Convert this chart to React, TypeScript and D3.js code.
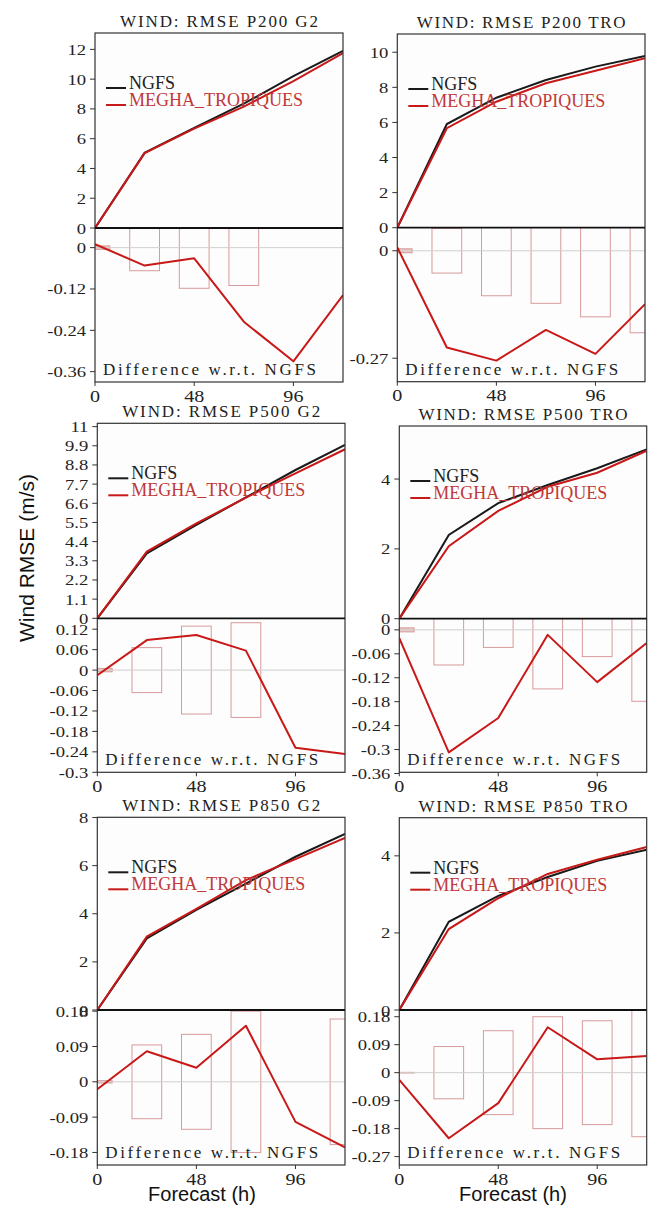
import React from "react";
import * as d3 from "d3";

// ---------- DATA ----------
const hours = [0, 24, 48, 72, 96, 120];
const xTicks = [0, 48, 96];

// P200 G2
const p200g2Ngfs = [0, 5.05, 6.72, 8.35, 10.2, 11.9];
const p200g2Megha = [0, 5.03, 6.68, 8.15, 9.87, 11.75];
const p200g2Diff = [0.01, -0.052, -0.031, -0.215, -0.33, -0.138];
const p200g2Ci = [0.005, 0.067, 0.118, 0.11, null, null];
const p200g2UpperTicks = [0, 2, 4, 6, 8, 10, 12];
const p200g2LowerTicks = [0, -0.12, -0.24, -0.36];

// P200 TRO
const p200troNgfs = [0, 5.91, 7.41, 8.42, 9.18, 9.79];
const p200troMegha = [0, 5.67, 7.18, 8.23, 8.95, 9.66];
const p200troDiff = [0.0085, -0.243, -0.276, -0.199, -0.259, -0.134];
const p200troCi = [0.005, 0.056, 0.113, 0.132, 0.166, 0.206];
const p200troUpperTicks = [0, 2, 4, 6, 8, 10];
const p200troLowerTicks = [0, -0.27];

// P500 G2
const p500g2Ngfs = [0, 3.73, 5.36, 6.94, 8.51, 9.95];
const p500g2Megha = [0, 3.83, 5.45, 6.92, 8.32, 9.7];
const p500g2Diff = [-0.015, 0.088, 0.103, 0.057, -0.228, -0.246];
const p500g2Ci = [0.005, 0.066, 0.129, 0.139, null, null];
const p500g2UpperTicks = [0, 1.1, 2.2, 3.3, 4.4, 5.5, 6.6, 7.7, 8.8, 9.9, 11];
const p500g2LowerTicks = [0.12, 0.06, 0, -0.06, -0.12, -0.18, -0.24, -0.3];

// P500 TRO
const p500troNgfs = [0, 2.4, 3.31, 3.83, 4.31, 4.85];
const p500troMegha = [0, 2.08, 3.09, 3.78, 4.18, 4.81];
const p500troDiff = [-0.021, -0.307, -0.221, -0.0125, -0.131, -0.033];
const p500troCi = [0.005, 0.088, 0.044, 0.148, 0.067, 0.179];
const p500troUpperTicks = [0, 2, 4];
const p500troLowerTicks = [0, -0.06, -0.12, -0.18, -0.24, -0.3, -0.36];

// P850 G2
const p850g2Ngfs = [0, 2.98, 4.16, 5.25, 6.37, 7.32];
const p850g2Megha = [0, 3.05, 4.2, 5.4, 6.27, 7.15];
const p850g2Diff = [-0.019, 0.078, 0.036, 0.143, -0.102, -0.167];
const p850g2Ci = [0.003, 0.094, 0.121, 0.18, null, 0.16];
const p850g2UpperTicks = [0, 2, 4, 6, 8];
const p850g2LowerTicks = [0.18, 0.09, 0, -0.09, -0.18];

// P850 TRO
const p850troNgfs = [0, 2.29, 2.96, 3.45, 3.87, 4.16];
const p850troMegha = [0, 2.1, 2.9, 3.53, 3.9, 4.23];
const p850troDiff = [-0.023, -0.211, -0.098, 0.146, 0.043, 0.054];
const p850troCi = [0.001, 0.084, 0.135, 0.18, 0.167, 0.206];
const p850troUpperTicks = [0, 2, 4];
const p850troLowerTicks = [0.18, 0.09, 0, -0.09, -0.18, -0.27];

// ---------- LAYOUT ----------
const panels = [
  { id: "a", title: "WIND: RMSE P200 G2", ngfs: p200g2Ngfs, megha: p200g2Megha, diff: p200g2Diff, ci: p200g2Ci, upTicks: p200g2UpperTicks, lowTicks: p200g2LowerTicks,
    left: 95, right: 343, top: 33, mid: 228, bottom: 382, upDom: [0, 13.1], lowDom: [-0.39, 0.057] },
  { id: "b", title: "WIND: RMSE P200 TRO", ngfs: p200troNgfs, megha: p200troMegha, diff: p200troDiff, ci: p200troCi, upTicks: p200troUpperTicks, lowTicks: p200troLowerTicks,
    left: 397.3, right: 645, top: 34, mid: 227.7, bottom: 381.7, upDom: [0, 11.04], lowDom: [-0.329, 0.058] },
  { id: "c", title: "WIND: RMSE P500 G2", ngfs: p500g2Ngfs, megha: p500g2Megha, diff: p500g2Diff, ci: p500g2Ci, upTicks: p500g2UpperTicks, lowTicks: p500g2LowerTicks,
    left: 97.3, right: 345, top: 423.3, mid: 618.3, bottom: 772.3, upDom: [0, 11.19], lowDom: [-0.3, 0.152] },
  { id: "d", title: "WIND: RMSE P500 TRO", ngfs: p500troNgfs, megha: p500troMegha, diff: p500troDiff, ci: p500troCi, upTicks: p500troUpperTicks, lowTicks: p500troLowerTicks,
    left: 399.3, right: 646.7, top: 426, mid: 618.7, bottom: 772.3, upDom: [0, 5.52], lowDom: [-0.357, 0.028] },
  { id: "e", title: "WIND: RMSE P850 G2", ngfs: p850g2Ngfs, megha: p850g2Megha, diff: p850g2Diff, ci: p850g2Ci, upTicks: p850g2UpperTicks, lowTicks: p850g2LowerTicks,
    left: 97.3, right: 345, top: 817.3, mid: 1010, bottom: 1165, upDom: [0, 8.01], lowDom: [-0.212, 0.183] },
  { id: "f", title: "WIND: RMSE P850 TRO", ngfs: p850troNgfs, megha: p850troMegha, diff: p850troDiff, ci: p850troCi, upTicks: p850troUpperTicks, lowTicks: p850troLowerTicks,
    left: 399.3, right: 646.7, top: 817.7, mid: 1010, bottom: 1165, upDom: [0, 4.99], lowDom: [-0.297, 0.2016] },
];

const SERIF = "'Liberation Serif', 'Times New Roman', serif";
const SANS = "'Liberation Sans', Arial, sans-serif";
const RED = "#c81818";
const BOX = "#d89a9a";
const HALF_BAR = 7.2;

const fmt = (v: number) => String(+v.toFixed(2));

function Panel({ p }: { p: any }) {
  const x = d3.scaleLinear().domain([0, 120]).range([p.left, p.right]);
  const yU = d3.scaleLinear().domain(p.upDom).range([p.mid, p.top]);
  const yL = d3.scaleLinear().domain(p.lowDom).range([p.bottom, p.mid]);
  const lineU = d3.line<number>().x((_, i) => x(hours[i])).y((d) => yU(d));
  const lineL = d3.line<number>().x((_, i) => x(hours[i])).y((d) => yL(d));
  const cx = (p.left + p.right) / 2;
  const titleLen = p.title.length * 11;
  return (
    <g>
      <defs>
        <clipPath id={`up-${p.id}`}>
          <rect x={p.left} y={p.top} width={p.right - p.left} height={p.mid - p.top} />
        </clipPath>
        <clipPath id={`lo-${p.id}`}>
          <rect x={p.left} y={p.mid} width={p.right - p.left} height={p.bottom - p.mid} />
        </clipPath>
      </defs>
      <rect x={p.left} y={p.top} width={p.right - p.left} height={p.bottom - p.top} fill="#fdfdfd" />
      {/* lower panel */}
      <g clipPath={`url(#lo-${p.id})`}>
        {p.ci.map((c: number | null, i: number) =>
          c == null ? null : (
            <rect
              key={i}
              x={x(hours[i] - HALF_BAR)}
              width={x(hours[i] + HALF_BAR) - x(hours[i] - HALF_BAR)}
              y={yL(c)}
              height={Math.max(0.5, yL(-c) - yL(c))}
              fill={i === 0 ? "#ecc8c8" : "none"}
              stroke={BOX}
              strokeWidth={1}
            />
          )
        )}
        <line x1={p.left} x2={p.right} y1={yL(0)} y2={yL(0)} stroke="#cfcfcf" strokeWidth={1} />
        <path d={lineL(p.diff) || ""} fill="none" stroke={RED} strokeWidth={2} strokeLinejoin="round" />
      </g>
      {/* upper panel */}
      <g clipPath={`url(#up-${p.id})`}>
        <path d={lineU(p.ngfs) || ""} fill="none" stroke="#1a1a1a" strokeWidth={2} />
        <path d={lineU(p.megha) || ""} fill="none" stroke={RED} strokeWidth={2} />
      </g>
      {/* frame */}
      <rect x={p.left} y={p.top} width={p.right - p.left} height={p.bottom - p.top} fill="none" stroke="#333" strokeWidth={1.2} />
      <line x1={p.left} x2={p.right} y1={p.mid} y2={p.mid} stroke="#111" strokeWidth={1.8} />
      {/* y ticks upper */}
      {p.upTicks.map((t: number) => (
        <g key={`u${t}`}>
          <line x1={p.left - 5} x2={p.left} y1={yU(t)} y2={yU(t)} stroke="#333" strokeWidth={1} />
          <text transform={`translate(${p.left - 9},${yU(t) + 5.5}) scale(1.2,1)`} textAnchor="end" fontFamily={SERIF} fontSize={15.5} fill="#222">
            {fmt(t)}
          </text>
        </g>
      ))}
      {p.lowTicks.map((t: number) => (
        <g key={`l${t}`}>
          <line x1={p.left - 5} x2={p.left} y1={yL(t)} y2={yL(t)} stroke="#333" strokeWidth={1} />
          <text transform={`translate(${p.left - 9},${yL(t) + 5.5}) scale(1.2,1)`} textAnchor="end" fontFamily={SERIF} fontSize={15.5} fill="#222">
            {fmt(t)}
          </text>
        </g>
      ))}
      {/* x ticks */}
      {xTicks.map((t) => (
        <g key={`x${t}`}>
          <line x1={x(t)} x2={x(t)} y1={p.bottom} y2={p.bottom + 4} stroke="#333" strokeWidth={1} />
          <text transform={`translate(${x(t)},${p.bottom + 19.5}) scale(1.22,1)`} textAnchor="middle" fontFamily={SERIF} fontSize={16.5} fill="#222">
            {t}
          </text>
        </g>
      ))}
      {/* title */}
      <text x={cx} y={p.top - 6} textAnchor="middle" fontFamily={SERIF} fontSize={17} textLength={titleLen} lengthAdjust="spacing" fill="#222">
        {p.title}
      </text>
      {/* legend */}
      <line x1={p.left + 11} x2={p.left + 31} y1={p.top + 55} y2={p.top + 55} stroke="#1a1a1a" strokeWidth={2} />
      <text x={p.left + 34} y={p.top + 56} fontFamily={SERIF} fontSize={18} fill="#222">NGFS</text>
      <line x1={p.left + 11} x2={p.left + 31} y1={p.top + 72} y2={p.top + 72} stroke={RED} strokeWidth={2} />
      <text x={p.left + 34} y={p.top + 73} fontFamily={SERIF} fontSize={18} fill="#c03838">MEGHA_TROPIQUES</text>
      {/* difference label */}
      <text x={p.left + 8} y={p.bottom - 7} fontFamily={SERIF} fontSize={17} textLength={213} lengthAdjust="spacing" fill="#222">
        Difference w.r.t. NGFS
      </text>
    </g>
  );
}

export default function App() {
  return (
    <svg width={652} height={1208} style={{ position: "absolute", left: 0, top: 0, background: "#fff" }}>
      <rect x={0} y={0} width={652} height={1208} fill="#fff" />
      {panels.map((p) => (
        <Panel key={p.id} p={p} />
      ))}
      <text transform="translate(34,642) rotate(-90)" fontFamily={SANS} fontSize={21} fill="#111">
        Wind RMSE (m/s)
      </text>
      <text x={202} y={1201} textAnchor="middle" fontFamily={SANS} fontSize={20} fill="#111">
        Forecast (h)
      </text>
      <text x={513} y={1201} textAnchor="middle" fontFamily={SANS} fontSize={20} fill="#111">
        Forecast (h)
      </text>
    </svg>
  );
}
